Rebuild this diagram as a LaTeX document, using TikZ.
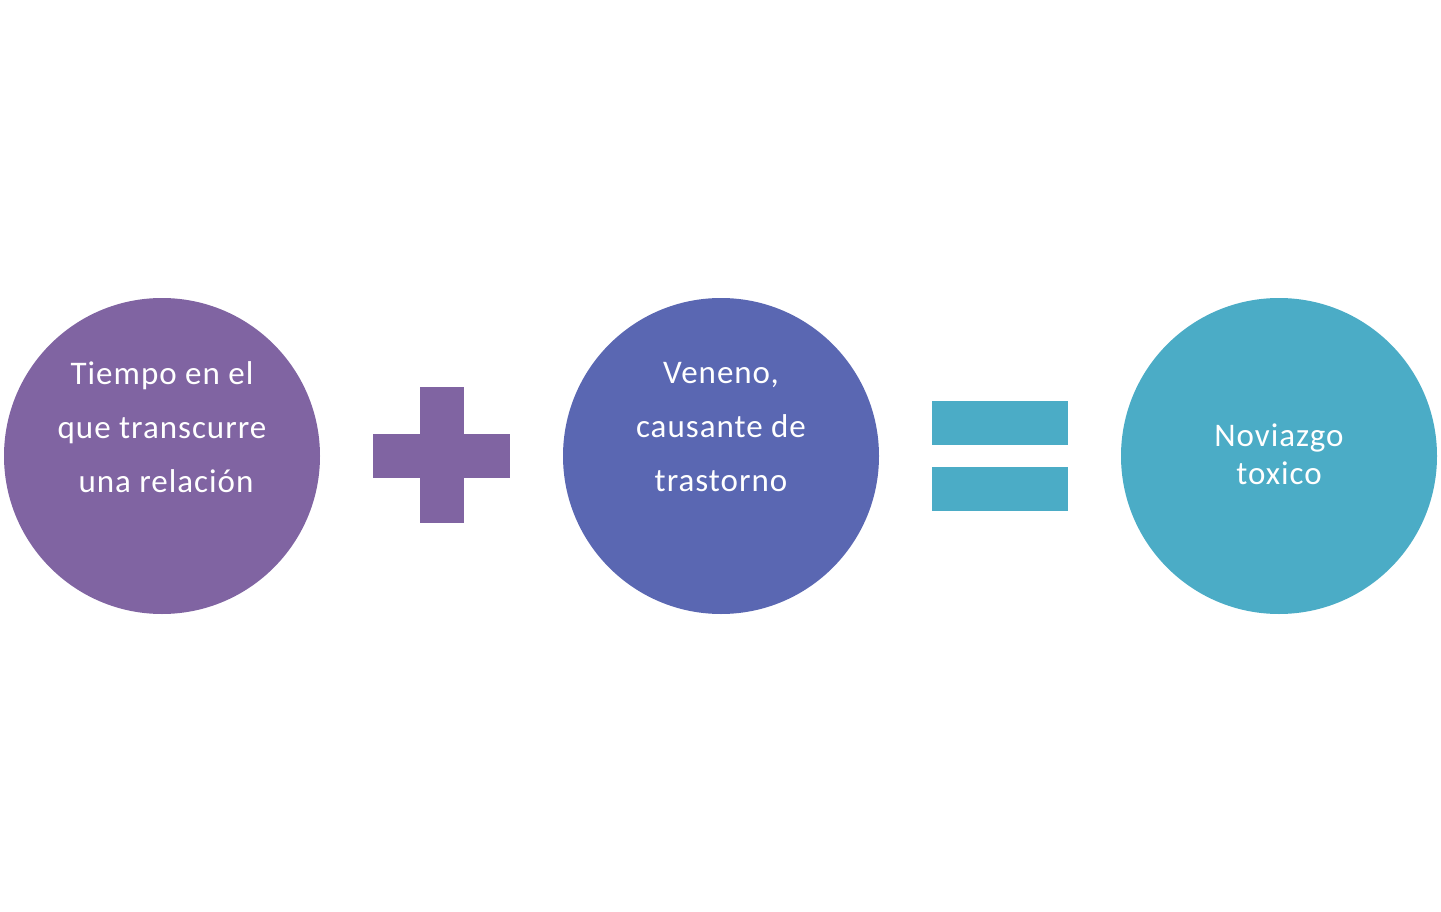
\documentclass[tikz,border=0pt]{standalone}
\usepackage{fontspec}
\setmainfont{Carlito}[LetterSpace=3]
\definecolor{cpurple}{HTML}{8064A2}
\definecolor{cblue}{HTML}{5A67B2}
\definecolor{cteal}{HTML}{4BACC6}
\begin{document}
\begin{tikzpicture}[x=1pt,y=-1pt,
  bubble/.style={circle,minimum size=316pt,inner sep=0pt},
  txt/.style={text=white,align=center,inner sep=0pt}]
\useasboundingbox (0,0) rectangle (1441,912);
\node[bubble,fill=cpurple] (c1) at (162,456) {};
\node[bubble,fill=cblue] (c2) at (721,456) {};
\node[bubble,fill=cteal] (c3) at (1279,456) {};
\node[txt,font=\fontsize{33}{54}\selectfont] (t1) at ([yshift=2pt]c1.center) {Tiempo en el\\que transcurre\\\hspace*{8pt}una relación\\[0pt]};
\node[txt,font=\fontsize{33}{54}\selectfont] (t2) at ([yshift=2pt]c2.center) {Veneno,\\causante de\\trastorno\\[0pt]};
\node[txt,font=\fontsize{33}{38}\selectfont] (t3) at ([yshift=2pt]c3.center) {Noviazgo\\toxico};
\fill[cpurple] (420,387) rectangle (464,523);
\fill[cpurple] (373,434) rectangle (510,478);
\fill[cteal] (932,401) rectangle (1068,445);
\fill[cteal] (932,467) rectangle (1068,511);
\end{tikzpicture}
\end{document}
